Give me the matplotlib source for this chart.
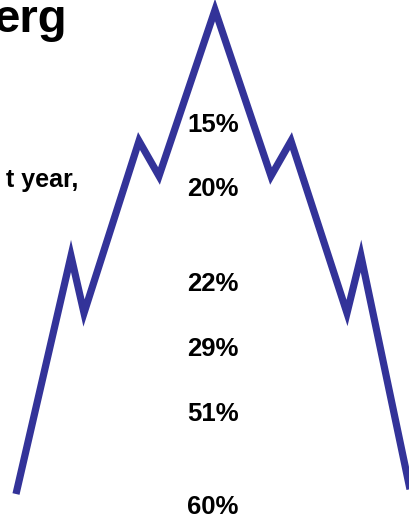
import matplotlib
matplotlib.use("Agg")
import matplotlib.pyplot as plt

plt.rcParams['font.family'] = ['Liberation Sans', 'DejaVu Sans']

# Outline of the "tree" line (picture units, y grows downwards)
tree_x = [16, 71, 84, 139, 159, 215, 271, 291, 347, 361, 411]
tree_y = [494, 256, 313, 141, 176, 10, 176, 141, 313, 256, 494]

# Percentage labels down the middle
labels = ['15%', '20%', '22%', '29%', '51%', '60%']
label_y = [125, 189, 284, 349, 414, 507]

fig = plt.figure(figsize=(4.09, 5.18), dpi=100)
ax = fig.add_axes([0, 0, 1, 1])
ax.set_xlim(0, 409)
ax.set_ylim(518, 0)
ax.axis('off')

ax.plot(tree_x, tree_y, color='#333399', linewidth=5.2,
        solid_joinstyle='miter', solid_capstyle='butt')

for lab, y in zip(labels, label_y):
    ax.text(213, y, lab, ha='center', va='center', fontsize=18.5,
            fontweight='bold', color='black')

# cut-off title and subtitle pieces
ax.text(67, 32, 'erg', ha='right', va='baseline', fontsize=34,
        fontweight='bold', color='black')
ax.text(78, 187, 't year,', ha='right', va='baseline', fontsize=18,
        fontweight='bold', color='black')

fig.savefig('out.png', dpi=100)
